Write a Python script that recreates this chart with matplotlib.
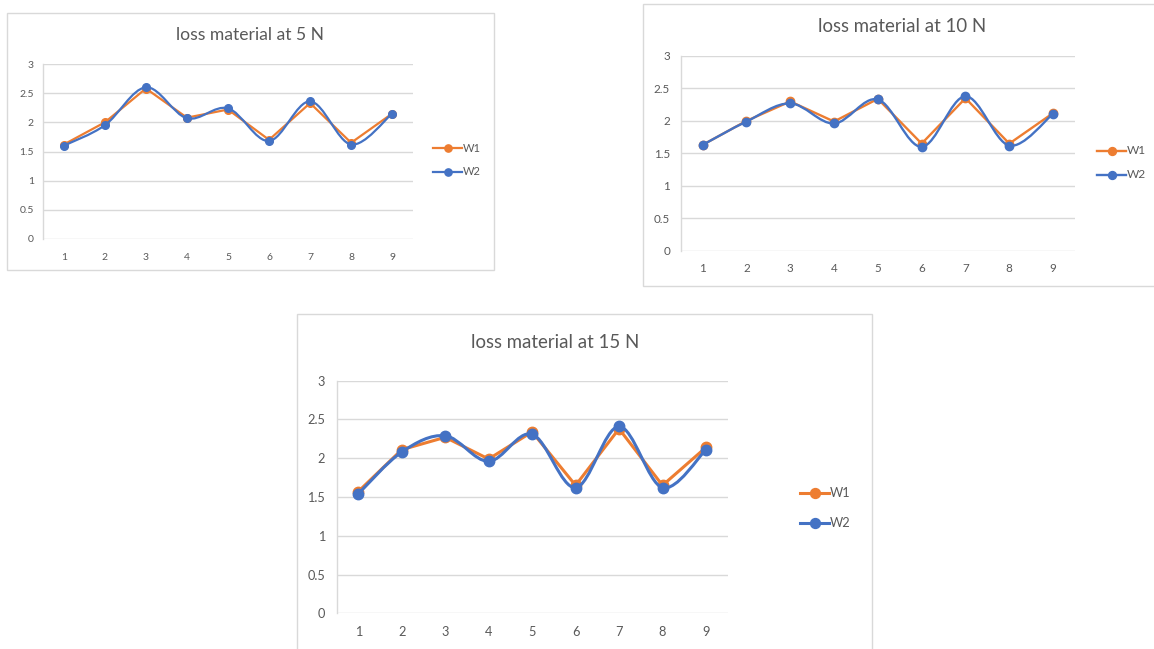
import numpy as np
import matplotlib.pyplot as plt
from matplotlib.path import Path
from matplotlib.patches import PathPatch, Rectangle
from matplotlib.lines import Line2D

plt.rcParams['font.family'] = ['Lato', 'DejaVu Sans']

W, H = 1154, 649

samples = np.arange(1, 10)
x_labels = [str(s) for s in samples]
y_ticks = [0, 0.5, 1, 1.5, 2, 2.5, 3]
y_labels = ['0', '0.5', '1', '1.5', '2', '2.5', '3']

# loss material per sample, W1 / W2
w1_5n = [1.62, 2.00, 2.58, 2.08, 2.22, 1.70, 2.33, 1.65, 2.15]
w2_5n = [1.60, 1.95, 2.60, 2.07, 2.24, 1.68, 2.36, 1.62, 2.15]
w1_10n = [1.63, 2.00, 2.30, 1.99, 2.34, 1.65, 2.35, 1.65, 2.12]
w2_10n = [1.63, 1.99, 2.27, 1.96, 2.33, 1.60, 2.38, 1.62, 2.11]
w1_15n = [1.57, 2.11, 2.27, 1.99, 2.34, 1.65, 2.38, 1.65, 2.14]
w2_15n = [1.54, 2.08, 2.29, 1.96, 2.31, 1.62, 2.41, 1.62, 2.11]

titles = ['loss material at 5 N', 'loss material at 10 N', 'loss material at 15 N']

orange = '#ED7D31'
blue = '#4472C4'
grid_c = '#d9d9d9'
text_c = '#595959'

# layout in pixels: border box, axes box, title centre, legend anchor, sizes
panels = [
    dict(w1=w1_5n, w2=w2_5n, title=titles[0],
         border=(7, 13, 494, 270), axes=(43.3, 64, 412.7, 239),
         title_xy=(250, 35), title_fs=12.6, tick_fs=7.5, xpad=10,
         leg=(433, 148, 23.5), lw=1.6, ms=5.5, leg_fs=8),
    dict(w1=w1_10n, w2=w2_10n, title=titles[1],
         border=(642.5, 4, 1170, 285.7), axes=(680.7, 56, 1075, 250.7),
         title_xy=(902, 26), title_fs=13.4, tick_fs=8.4, xpad=8.6,
         leg=(1097, 151, 24), lw=1.7, ms=6, leg_fs=8.6),
    dict(w1=w1_15n, w2=w2_15n, title=titles[2],
         border=(296.7, 314, 871.7, 660), axes=(336.5, 380.7, 727.7, 613.3),
         title_xy=(555, 343), title_fs=13.4, tick_fs=9.2, xpad=9.2,
         leg=(800, 493, 30), lw=2.2, ms=7.5, leg_fs=9.2),
]


def smooth_path(x, y):
    # cubic Bezier through every point, Catmull-Rom style tangents
    pts = np.column_stack([x, y]).astype(float)
    n = len(pts)
    verts = [pts[0]]
    codes = [Path.MOVETO]
    for i in range(n - 1):
        p0 = pts[max(i - 1, 0)]
        p1 = pts[i]
        p2 = pts[i + 1]
        p3 = pts[min(i + 2, n - 1)]
        verts += [p1 + (p2 - p0) / 6, p2 - (p3 - p1) / 6, p2]
        codes += [Path.CURVE4] * 3
    return Path(verts, codes)


def fx(px):
    return px / W


def fy(py):
    return 1 - py / H


fig = plt.figure(figsize=(W / 100, H / 100), dpi=100)

for p in panels:
    bx0, by0, bx1, by1 = p['border']
    fig.patches.append(Rectangle((fx(bx0), fy(by1)), fx(bx1 - bx0), (by1 - by0) / H,
                                 transform=fig.transFigure, facecolor='white',
                                 edgecolor=grid_c, lw=1.0, zorder=-1))

    ax0, ay0, ax1, ay1 = p['axes']
    ax = fig.add_axes([fx(ax0), fy(ay1), fx(ax1 - ax0), (ay1 - ay0) / H], zorder=2)
    ax.set_xlim(0.5, 9.5)
    ax.set_ylim(0, 3)
    ax.set_facecolor('none')
    for s in ['top', 'right', 'bottom']:
        ax.spines[s].set_visible(False)
    ax.spines['left'].set_color(grid_c)
    ax.spines['left'].set_linewidth(1.0)
    ax.set_yticks(y_ticks, y_labels)
    ax.set_xticks(samples, x_labels)
    ax.tick_params(length=0, labelsize=p['tick_fs'], colors=text_c)
    ax.tick_params(axis='y', pad=p['tick_fs'] * 0.9)
    ax.tick_params(axis='x', pad=p['xpad'])
    ax.grid(axis='y', color=grid_c, lw=1.0)
    ax.set_axisbelow(True)

    ax.plot(samples, p['w1'], color=orange, lw=p['lw'], marker='o', ms=p['ms'],
            solid_joinstyle='round', zorder=3)
    ax.add_patch(PathPatch(smooth_path(samples, p['w2']), facecolor='none',
                           edgecolor=blue, lw=p['lw'], zorder=4))
    ax.plot(samples, p['w2'], color=blue, lw=0, marker='o', ms=p['ms'], zorder=5)

    fig.text(fx(p['title_xy'][0]), fy(p['title_xy'][1]), p['title'],
             ha='center', va='center', fontsize=p['title_fs'], color=text_c)

    lx, ly, gap = p['leg']
    for k, (name, c) in enumerate([('W1', orange), ('W2', blue)]):
        yy = ly + k * gap
        fig.lines.append(Line2D([fx(lx), fx(lx + 29)], [fy(yy), fy(yy)],
                                transform=fig.transFigure, color=c, lw=p['lw'], zorder=5))
        fig.lines.append(Line2D([fx(lx + 14.5)], [fy(yy)], transform=fig.transFigure,
                                color=c, marker='o', ms=p['ms'] * 0.95, lw=0, zorder=6))
        fig.text(fx(lx + 30), fy(yy), name, ha='left', va='center',
                 fontsize=p['leg_fs'], color=text_c)

fig.savefig('out.png', dpi=100)
